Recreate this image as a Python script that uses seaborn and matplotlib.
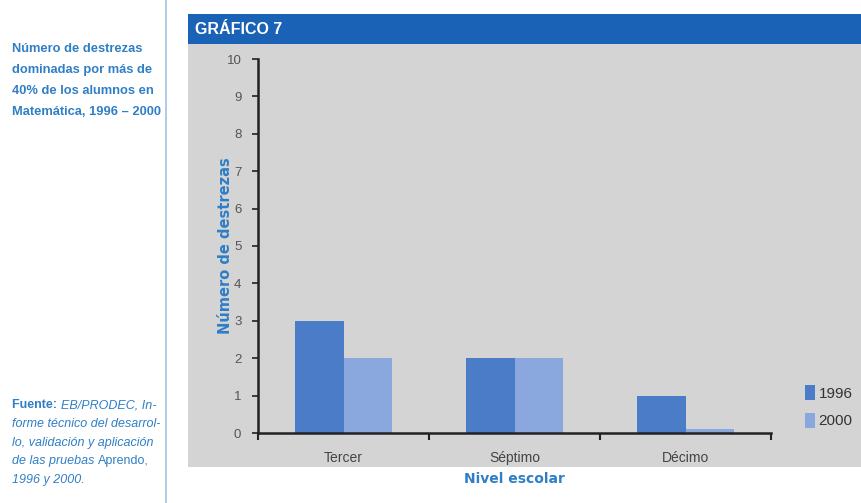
import matplotlib
matplotlib.use("Agg")
import matplotlib.pyplot as plt
from matplotlib.patches import Rectangle, Patch
from matplotlib.lines import Line2D
import seaborn as sns
import pandas as pd

# Data
niveles = ["Tercer", "Séptimo", "Décimo"]
anios = ["1996", "2000"]
destrezas_1996 = [3, 2, 1]
destrezas_2000 = [2, 2, 0.1]
y_ticks = list(range(0, 11))

df = pd.DataFrame({
    "nivel": niveles * 2,
    "anio": [anios[0]] * 3 + [anios[1]] * 3,
    "valor": destrezas_1996 + destrezas_2000,
})

sns.set_theme(style="white")
plt.rcParams["font.family"] = ["Liberation Sans", "DejaVu Sans"]

W, H = 861, 503
fig = plt.figure(figsize=(W / 100, H / 100), dpi=100)
fig.patch.set_facecolor("white")

def fx(px):
    return px / W

def fy(py):
    return 1 - py / H

blue_text = "#2f7fc6"
c1996 = "#4b7cc8"
c2000 = "#8ba8de"

# Divider line and gray panel with header band
fig.add_artist(Line2D([fx(166), fx(166)], [0, 1], color="#a9bfe4", lw=1.2))
fig.add_artist(Rectangle((fx(188), fy(467)), fx(861 - 188), (467 - 44) / H,
                         facecolor="#d4d4d4", edgecolor="none", zorder=0))
fig.add_artist(Rectangle((fx(188), fy(44)), fx(861 - 188), 30 / H,
                         facecolor="#1a62b6", edgecolor="none", zorder=0))
fig.text(fx(195), fy(30), "GRÁFICO 7", color="white", fontsize=11.5,
         fontweight="bold", va="center", ha="left")

# Plot area
ax = fig.add_axes([fx(258), fy(433), fx(771 - 258), (433 - 59) / H])
ax.patch.set_alpha(0)
sns.barplot(data=df, x="nivel", y="valor", hue="anio", palette=[c1996, c2000],
            width=0.57, gap=0, saturation=1, linewidth=0, edgecolor="none",
            ax=ax, legend=False)
ax.set_xlim(-0.5, 2.5)
ax.set_ylim(0, 10)
ax.set_yticks(y_ticks)
ax.set_yticklabels([str(t) for t in y_ticks], color="#555555", fontsize=9.5)
ax.set_xticks(range(len(niveles)))
ax.set_xticklabels(niveles, color="#444444", fontsize=10)
ax.set_xticks([-0.5, 0.5, 1.5, 2.5], minor=True)
ax.tick_params(axis="x", which="major", length=0, pad=13)
ax.tick_params(axis="x", which="minor", length=5, width=1.5, color="#222222", direction="out", bottom=True)
ax.tick_params(axis="y", length=4, width=1.2, color="#222222", direction="out", left=True, pad=8)
for s in ["top", "right"]:
    ax.spines[s].set_visible(False)
for s in ["left", "bottom"]:
    ax.spines[s].set_color("#222222")
    ax.spines[s].set_linewidth(1.8)
ax.set_xlabel("Nivel escolar", color=blue_text, fontsize=10, fontweight="bold",
              family=["DejaVu Sans"], labelpad=5)
ax.set_ylabel("Número de destrezas", color=blue_text, fontsize=10.5, fontweight="bold",
              family=["DejaVu Sans"], labelpad=-5)

# Legend
handles = [Patch(facecolor=c1996, edgecolor="none"), Patch(facecolor=c2000, edgecolor="none")]
leg = fig.legend(handles, anios, loc="upper left", bbox_to_anchor=(fx(791), fy(371)),
                 frameon=False, fontsize=11, handlelength=0.7, handleheight=1.15,
                 handletextpad=0.2, labelspacing=0.8)
for t in leg.get_texts():
    t.set_color("#333333")

# Side title
title_lines = ["Número de destrezas", "dominadas por más de",
               "40% de los alumnos en", "Matemática, 1996 – 2000"]
for i, line in enumerate(title_lines):
    fig.text(fx(12), fy(49 + 21 * i), line, color=blue_text, fontsize=9.3,
             fontweight="bold", va="center", ha="left")

# Source note with mixed styles
src_kw = dict(color=blue_text, fontsize=9, va="center")
line_y = [405, 424, 443, 461, 480]

def run(x_px, y_px, s, **kw):
    t = fig.text(fx(x_px), fy(y_px), s, **src_kw, **kw)
    fig.canvas.draw()
    return t.get_window_extent().x1

x1 = run(12, line_y[0], "Fuente: ", fontweight="bold")
run(x1, line_y[0], "EB/PRODEC, In-", style="italic")
run(12, line_y[1], "forme técnico del desarrol-", style="italic")
run(12, line_y[2], "lo, validación y aplicación", style="italic")
x2 = run(12, line_y[3], "de las pruebas ", style="italic")
run(x2, line_y[3], "Aprendo,")
run(12, line_y[4], "1996 y 2000.", style="italic")

fig.savefig("out.png", dpi=100)
